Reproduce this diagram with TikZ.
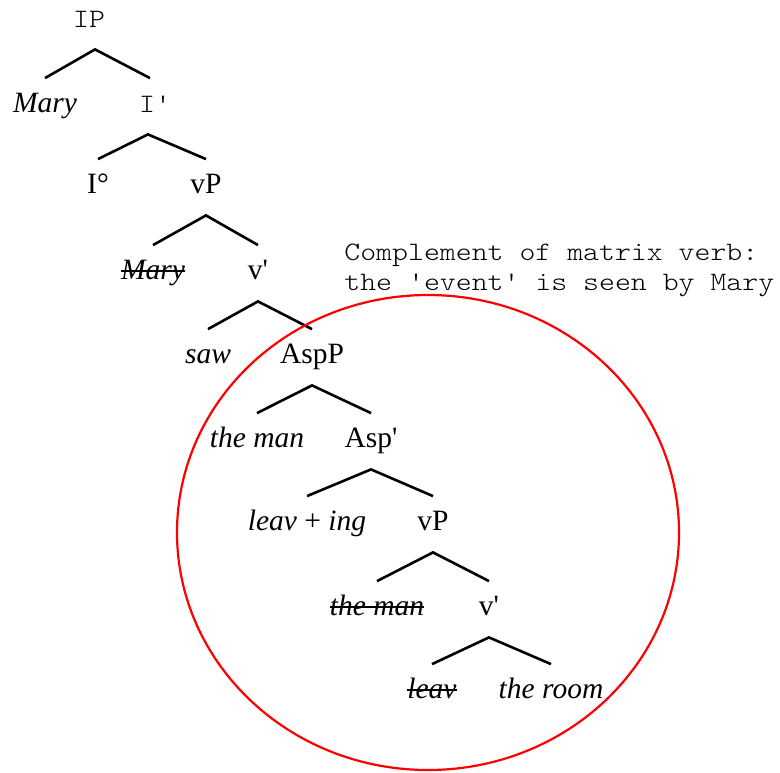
\documentclass[tikz,border=0pt]{standalone}
\usepackage{fontspec}
\setmainfont{Liberation Serif}
\setmonofont{lmmonolt10-regular.otf}[FakeStretch=1.14]

% struck-through copy (trace)
\newcommand\strk[1]{\setbox0\hbox{#1}\rlap{\rule[0.24em]{\wd0}{0.75pt}}\box0}

\tikzset{
  lbl/.style={anchor=base,inner sep=0pt,text height=16.75pt,text depth=11pt,font=\fontsize{14.75}{17}\selectfont},
  mono/.style={lbl,font=\fontsize{13.3}{15}\selectfont\ttfamily},
  note/.style={anchor=west,align=left,inner sep=0pt,font=\fontsize{13.3}{15}\selectfont\ttfamily},
  branch/.style={line width=1.3pt}
}

\begin{document}
\begin{tikzpicture}[x=0.5pt,y=-0.5pt]
\useasboundingbox (0,0) rectangle (780,772);
\node[mono] (ip) at (89,27) {IP};
\node[lbl] (mary) at (45,112) {\textit{Mary}};
\node[mono] (ibar) at (155,112) {I'};
\node[lbl] (izero) at (98,193) {I°};
\node[lbl] (vp) at (206,193) {vP};
\node[lbl] (marytr) at (153,279) {\strk{\textit{Mary}}};
\node[lbl] (vbar) at (258,279) {v\textquotesingle};
\node[lbl] (saw) at (208,363) {\textit{saw}};
\node[lbl] (aspp) at (312,363) {AspP};
\node[lbl] (theman) at (257,447) {\textit{the man}};
\node[lbl] (aspbar) at (371,447) {Asp\textquotesingle};
\node[lbl] (leaving) at (307,530) {\textit{leav} + \textit{ing}};
\node[lbl] (vplow) at (433,530) {vP};
\node[lbl] (themantr) at (377,615) {\strk{\textit{the man}}};
\node[lbl] (vbarlow) at (489,615) {v\textquotesingle};
\node[lbl] (leavtr) at (432,698) {\strk{\textit{leav}}};
\node[lbl] (room) at (551,698) {\textit{the room}};
\node[note] (comment) at (344,270) {Complement of matrix verb:\\the 'event' is seen by Mary};

\draw[branch] (mary.north) -- ([xshift=3pt]ip.south) -- ([xshift=-2.5pt]ibar.north);
\draw[branch] (izero.north) -- ([xshift=-3.5pt]ibar.south) -- (vp.north);
\draw[branch] (marytr.north) -- (vp.south) -- (vbar.north);
\draw[branch] (saw.north) -- (vbar.south) -- (aspp.north);
\draw[branch] (theman.north) -- (aspp.south) -- (aspbar.north);
\draw[branch] (leaving.north) -- (aspbar.south) -- (vplow.north);
\draw[branch] (themantr.north) -- (vplow.south) -- (vbarlow.north);
\draw[branch] (leavtr.north) -- (vbarlow.south) -- (room.north);

% the embedded event
\draw[red,line width=1.1pt] (428,532.5) ellipse [x radius=251,y radius=237.5];
\end{tikzpicture}
\end{document}
